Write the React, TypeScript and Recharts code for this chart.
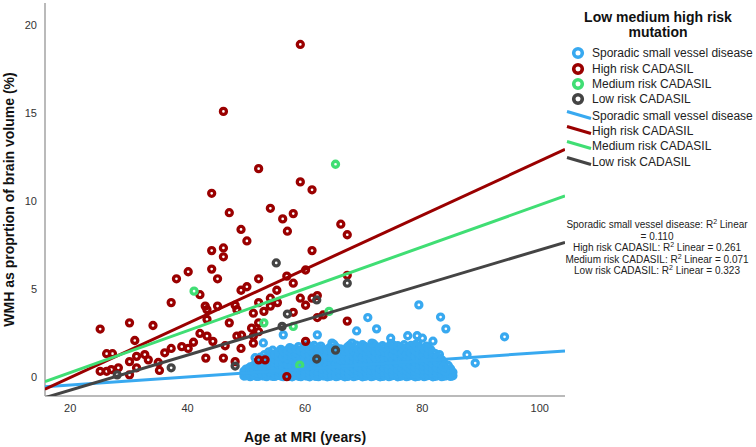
import React from 'react'
import { Scatter, ScatterChart, XAxis, YAxis } from 'recharts'

// Age at MRI (years) vs WMH volume as % of brain volume, grouped by mutation risk
type Pt = [number, number]

const X_MIN = 15.7
const X_MAX = 104.3
const Y_MIN = -1.05
const Y_MAX = 21.25

const xTicks = [20, 40, 60, 80, 100]
const yTicks = [0, 5, 10, 15, 20]

const groupNames = ['Sporadic small vessel disease', 'High risk CADASIL', 'Medium risk CADASIL', 'Low risk CADASIL']
const groupColors = ['#38a9f0', '#9a0000', '#40de74', '#444444']
const r2Values = ['0.110', '0.261', '0.071', '0.323']

// linear fits per group: [intercept, slope]
const fitCoefs: Pt[] = [
  [-0.891, 0.023],
  [-3.07, 0.1535],
  [-2.097, 0.1189],
  [-2.708, 0.0995],
]

const highPts: Pt[] = [
  [59.2, 18.9], [46.1, 15.1], [52.1, 11.85], [59.2, 11.1], [61.2, 10.65], [44.1, 10.45],
  [54.1, 9.6], [47.1, 9.35], [58.0, 9.3], [56.2, 9.0], [49.1, 8.4], [57.0, 8.3], [66.1, 8.7],
  [67.2, 8.1], [50.1, 7.75], [44.1, 7.2], [46.1, 7.35], [46.1, 6.85], [61.2, 7.2], [40.1, 6.0],
  [44.1, 6.15], [38.1, 5.6], [45.1, 5.6], [52.1, 5.6], [60.1, 6.1], [56.9, 5.75], [58.0, 5.35],
  [67.2, 5.8], [50.1, 5.15], [49.1, 4.95], [55.2, 4.95], [42.1, 4.7], [37.2, 4.25], [43.0, 4.05],
  [43.3, 3.85], [45.1, 4.05], [48.1, 4.1], [48.4, 3.85], [52.1, 4.25], [54.1, 4.5], [54.1, 4.05],
  [55.3, 4.25], [59.2, 4.5], [60.1, 4.1], [61.2, 4.5], [62.1, 4.65], [51.2, 3.65], [53.0, 3.75],
  [58.0, 3.7], [62.1, 3.4], [63.1, 3.55], [67.2, 3.2], [43.3, 3.3], [47.1, 3.1], [52.1, 3.1],
  [50.9, 2.8], [52.1, 2.6], [25.1, 2.75], [30.1, 3.1], [34.1, 2.95], [42.1, 2.5], [43.3, 2.35],
  [44.3, 2.05], [41.0, 2.0], [39.0, 1.75], [40.1, 1.65], [37.2, 1.65], [36.1, 1.4], [31.0, 2.1],
  [48.4, 2.35], [49.2, 2.4], [51.2, 2.35], [51.2, 1.95], [49.1, 1.65], [46.4, 1.8], [60.1, 2.05],
  [26.2, 1.35], [27.2, 1.35], [30.1, 0.9], [31.3, 1.2], [32.7, 1.3], [33.3, 1.0], [35.0, 0.85],
  [25.1, 0.35], [26.2, 0.35], [27.0, 0.45], [28.2, 0.55], [30.1, 0.15], [31.3, 0.55], [35.2, 0.4],
  [43.1, 1.1], [46.1, 1.1], [48.1, 0.9], [52.1, 1.0], [53.2, 1.0], [56.9, 0.05],
]

const mediumPts: Pt[] = [
  [65.2, 12.1], [41.1, 4.9], [53.0, 3.1], [58.0, 2.9], [59.1, 0.7], [64.1, 3.75],
]

const lowPts: Pt[] = [
  [55.1, 6.5], [57.0, 3.6], [62.0, 4.4], [62.0, 1.05], [37.2, 0.55], [48.1, 0.65],
  [28.0, 0.15], [56.1, 2.9], [67.2, 5.35], [65.2, 1.55],
]

// sporadic SVD: scattered higher values, then the dense low band by age
const sporadicOutliers: Pt[] = [
  [51.5, 1.12], [52.9, 1.96], [56.3, 2.42], [62.1, 2.42], [64.6, 1.95], [68.0, 1.95], [68.8, 2.64],
  [70.7, 3.4], [71.4, 1.95], [72.2, 2.76], [74.6, 2.23], [77.5, 2.37], [79.1, 2.37], [80.0, 2.23],
  [81.8, 2.06], [79.0, 1.76], [79.4, 4.12], [83.1, 3.43], [84.0, 2.76], [87.6, 1.29], [89.0, 0.82],
  [94.0, 2.31], [83.9, 0.34], [83.6, 0.6],
]

const sporadicBand: [number, number[]][] = [
  [49.6, [0.08, 0.35]],
  [50.3, [0.15, 0.5]],
  [51.0, [0.1, 0.32, 0.62]],
  [51.7, [0.07, 0.28, 0.55, 0.84]],
  [52.4, [0.14, 0.4, 0.7, 1.15]],
  [53.1, [0.09, 0.3, 0.58, 0.92, 1.3]],
  [53.8, [0.12, 0.36, 0.66, 1.02, 1.45]],
  [54.5, [0.07, 0.25, 0.5, 0.8, 1.18, 1.55]],
  [55.2, [0.11, 0.33, 0.6, 0.95, 1.42]],
  [55.9, [0.08, 0.27, 0.52, 0.78, 1.1, 1.6]],
  [56.7, [0.13, 0.38, 0.68, 1.0, 1.35]],
  [57.4, [0.06, 0.24, 0.47, 0.85, 1.22, 1.7]],
  [58.2, [0.1, 0.31, 0.58, 0.9, 1.5]],
  [58.9, [0.07, 0.22, 0.45, 0.72, 1.05, 1.38, 1.75]],
  [59.7, [0.12, 0.34, 0.62, 0.98, 1.28, 1.62]],
  [60.4, [0.08, 0.26, 0.5, 0.8, 1.15, 1.45, 1.85]],
  [61.2, [0.11, 0.36, 0.66, 0.94, 1.3, 1.68]],
  [61.9, [0.06, 0.23, 0.44, 0.74, 1.08, 1.52]],
  [62.7, [0.13, 0.38, 0.6, 0.88, 1.22, 1.78]],
  [63.4, [0.09, 0.28, 0.52, 0.82, 1.12, 1.42]],
  [64.2, [0.07, 0.32, 0.58, 0.96, 1.34, 1.7]],
  [64.9, [0.12, 0.24, 0.46, 0.7, 1.02, 1.55, 1.88]],
  [65.7, [0.08, 0.35, 0.64, 0.9, 1.25, 1.6]],
  [66.4, [0.1, 0.27, 0.5, 0.78, 1.1, 1.44]],
  [67.2, [0.06, 0.3, 0.56, 0.86, 1.18, 1.72]],
  [67.9, [0.13, 0.4, 0.68, 1.0, 1.36, 1.65]],
  [68.7, [0.09, 0.25, 0.48, 0.74, 1.06, 1.5, 1.84]],
  [69.4, [0.11, 0.34, 0.6, 0.92, 1.28, 1.72]],
  [70.2, [0.07, 0.22, 0.44, 0.7, 1.02, 1.4, 1.76]],
  [70.9, [0.12, 0.36, 0.62, 0.88, 1.2, 1.56]],
  [71.7, [0.08, 0.28, 0.52, 0.82, 1.14, 1.48, 1.9]],
  [72.4, [0.1, 0.33, 0.58, 0.96, 1.3, 1.66]],
  [73.2, [0.06, 0.24, 0.46, 0.72, 1.04, 1.38, 1.8]],
  [73.9, [0.13, 0.38, 0.66, 0.9, 1.22, 1.58]],
  [74.7, [0.09, 0.3, 0.54, 0.84, 1.16, 1.5, 1.94]],
  [75.4, [0.11, 0.26, 0.5, 0.78, 1.08, 1.44, 1.7]],
  [76.2, [0.07, 0.35, 0.62, 0.94, 1.26, 1.62]],
  [76.9, [0.12, 0.28, 0.48, 0.76, 1.1, 1.46, 1.86]],
  [77.7, [0.08, 0.32, 0.58, 0.86, 1.2, 1.56]],
  [78.4, [0.1, 0.24, 0.44, 0.7, 1.0, 1.34, 1.74]],
  [79.2, [0.06, 0.36, 0.64, 0.92, 1.28, 1.6, 1.96]],
  [79.9, [0.13, 0.3, 0.52, 0.8, 1.12, 1.48]],
  [80.7, [0.09, 0.26, 0.5, 0.76, 1.06, 1.4, 1.78]],
  [81.4, [0.11, 0.34, 0.6, 0.9, 1.24, 1.58]],
  [82.2, [0.07, 0.22, 0.46, 0.72, 1.04, 1.36]],
  [82.9, [0.12, 0.38, 0.66, 0.96, 1.3]],
  [83.7, [0.08, 0.3, 0.55, 0.82]],
  [84.4, [0.14, 0.4, 0.68]],
  [85.2, [0.1, 0.3]],
]

// second set of subjects sitting between the ages above
const sporadicBandB: [number, number[]][] = [
  [49.95, [0.1, 0.3, 0.48]],
  [50.65, [0.05, 0.22, 0.42, 0.6]],
  [51.35, [0.12, 0.3, 0.48, 0.7]],
  [52.05, [0.06, 0.24, 0.44, 0.64, 0.9]],
  [52.75, [0.1, 0.2, 0.42, 0.62, 0.82, 1.05]],
  [53.45, [0.05, 0.22, 0.44, 0.6, 0.82, 1.12]],
  [54.15, [0.1, 0.28, 0.46, 0.68, 0.9, 1.14, 1.35]],
  [54.85, [0.06, 0.2, 0.4, 0.62, 0.86, 1.06, 1.3]],
  [55.55, [0.12, 0.3, 0.46, 0.7, 0.88, 1.2, 1.45]],
  [56.3, [0.05, 0.2, 0.42, 0.6, 0.84, 1.16, 1.5]],
  [57.05, [0.1, 0.32, 0.56, 0.72, 1.06, 1.3, 1.55]],
  [57.8, [0.04, 0.18, 0.38, 0.66, 1.0, 1.14, 1.36, 1.62]],
  [58.55, [0.12, 0.3, 0.52, 0.8, 1.2, 1.4, 1.6]],
  [59.3, [0.05, 0.2, 0.4, 0.58, 0.84, 1.16, 1.5]],
  [60.05, [0.1, 0.28, 0.46, 0.64, 0.86, 1.1, 1.36, 1.6]],
  [60.8, [0.04, 0.2, 0.4, 0.62, 0.98, 1.28, 1.6]],
  [61.55, [0.1, 0.24, 0.52, 0.8, 1.12, 1.46, 1.82]],
  [62.3, [0.05, 0.2, 0.34, 0.58, 0.92, 1.36, 1.66]],
  [63.05, [0.1, 0.26, 0.48, 0.74, 1.04, 1.3, 1.6]],
  [63.8, [0.04, 0.2, 0.42, 0.66, 0.96, 1.26, 1.58]],
  [64.55, [0.1, 0.22, 0.44, 0.76, 1.16, 1.48]],
  [65.3, [0.05, 0.2, 0.52, 0.8, 1.1, 1.4, 1.72]],
  [66.05, [0.12, 0.22, 0.46, 0.72, 1.0, 1.32, 1.62]],
  [66.8, [0.04, 0.18, 0.4, 0.64, 0.98, 1.3, 1.5]],
  [67.55, [0.1, 0.22, 0.46, 0.72, 1.06, 1.52, 1.82]],
  [68.3, [0.05, 0.26, 0.54, 0.86, 1.2, 1.5]],
  [69.05, [0.12, 0.2, 0.38, 0.62, 0.9, 1.2, 1.62]],
  [69.8, [0.04, 0.22, 0.48, 0.8, 1.14, 1.56, 1.86]],
  [70.55, [0.1, 0.26, 0.52, 0.78, 1.1, 1.3, 1.66]],
  [71.3, [0.05, 0.2, 0.42, 0.72, 1.02, 1.36, 1.72]],
  [72.05, [0.12, 0.2, 0.4, 0.68, 1.12, 1.46, 1.78]],
  [72.8, [0.04, 0.22, 0.48, 0.84, 1.18, 1.52]],
  [73.55, [0.1, 0.26, 0.54, 0.8, 1.1, 1.46, 1.7]],
  [74.3, [0.05, 0.2, 0.44, 0.74, 1.04, 1.34, 1.76]],
  [75.05, [0.12, 0.2, 0.4, 0.68, 0.98, 1.3, 1.62, 1.84]],
  [75.8, [0.04, 0.2, 0.46, 0.8, 1.18, 1.5, 1.8]],
  [76.55, [0.1, 0.22, 0.54, 0.84, 1.04, 1.36, 1.7]],
  [77.3, [0.05, 0.2, 0.4, 0.66, 0.98, 1.3, 1.7]],
  [78.05, [0.12, 0.22, 0.46, 0.74, 1.06, 1.4, 1.82]],
  [78.8, [0.04, 0.18, 0.36, 0.58, 0.86, 1.16, 1.52, 1.86]],
  [79.55, [0.1, 0.24, 0.46, 0.74, 1.02, 1.34, 1.72]],
  [80.3, [0.05, 0.2, 0.4, 0.64, 0.94, 1.24, 1.6]],
  [81.05, [0.12, 0.2, 0.42, 0.66, 0.96, 1.3, 1.66]],
  [81.8, [0.04, 0.22, 0.48, 0.78, 1.1, 1.42]],
  [82.55, [0.1, 0.26, 0.54, 0.84, 1.18]],
  [83.3, [0.05, 0.22, 0.44, 0.7, 1.0]],
  [84.05, [0.1, 0.24, 0.52]],
  [84.8, [0.06, 0.22, 0.5]],
]

const toXY = (pts: Pt[]) => pts.map(([x, y]) => ({ x, y }))
const bandXY = (band: [number, number[]][]) => band.flatMap(([age, vals]) => vals.map(v => ({ x: age, y: v })))

const sporadicData = [...bandXY(sporadicBand), ...bandXY(sporadicBandB), ...toXY(sporadicOutliers)]

const groupData = [sporadicData, toXY(highPts), toXY(mediumPts), toXY(lowPts)]

const fitData = fitCoefs.map(([a, b]) => [
  { x: X_MIN, y: a + b * X_MIN },
  { x: X_MAX, y: a + b * X_MAX },
])

const FONT = '"Liberation Sans", Arial, sans-serif'

// hollow ring marker: overlapping rings fill each other's holes
const ring = (color: string) => (props: any) => (
  <circle cx={props.cx} cy={props.cy} r={3} fill="none" stroke={color} strokeWidth={3.3} />
)
const noDot = () => <g />

const YTitle = () => (
  <text
    x={9}
    y={199.5}
    transform="rotate(-90 9 199.5)"
    textAnchor="middle"
    dominantBaseline="central"
    fontFamily={FONT}
    fontSize={14}
    fontWeight="bold"
    fill="#111"
  >
    WMH as proprtion of brain volume (%)
  </text>
)

const XTitle = () => (
  <text
    x={305}
    y={437}
    textAnchor="middle"
    dominantBaseline="central"
    fontFamily={FONT}
    fontSize={14}
    fontWeight="bold"
    fill="#111"
  >
    Age at MRI (years)
  </text>
)

function Legend() {
  const markerRows = [53, 69, 84, 99]
  const lineRows = [116, 131, 146, 162]
  return (
    <svg width={196} height={180} style={{ position: 'absolute', left: 560, top: 0 }}>
      <text x={98} y={17} textAnchor="middle" dominantBaseline="central" fontFamily={FONT} fontSize={14} fontWeight="bold" fill="#111">
        Low medium high risk
      </text>
      <text x={98} y={32} textAnchor="middle" dominantBaseline="central" fontFamily={FONT} fontSize={14} fontWeight="bold" fill="#111">
        mutation
      </text>
      {groupNames.map((name, i) => (
        <g key={'m' + i}>
          <circle cx={18} cy={markerRows[i]} r={4.3} fill="none" stroke={groupColors[i]} strokeWidth={3.6} />
          <text x={32} y={markerRows[i]} dominantBaseline="central" fontFamily={FONT} fontSize={12} fill="#222">
            {name}
          </text>
        </g>
      ))}
      {groupNames.map((name, i) => (
        <g key={'l' + i}>
          <line x1={7} y1={lineRows[i] - 4.5} x2={31} y2={lineRows[i] + 2.5} stroke={groupColors[i]} strokeWidth={3} />
          <text x={32} y={lineRows[i]} dominantBaseline="central" fontFamily={FONT} fontSize={12} fill="#222">
            {name}
          </text>
        </g>
      ))}
    </svg>
  )
}

function R2Notes() {
  const [first, ...rest] = groupNames
  return (
    <div
      style={{
        position: 'absolute',
        left: 557,
        top: 219,
        width: 200,
        textAlign: 'center',
        fontFamily: FONT,
        fontSize: 10,
        lineHeight: '11.5px',
        color: '#222',
      }}
    >
      <div>
        {first}: R<sup style={{ fontSize: 7, lineHeight: 0 }}>2</sup> Linear
      </div>
      <div>= {r2Values[0]}</div>
      {rest.map((name, i) => (
        <div key={name}>
          {name}: R<sup style={{ fontSize: 7, lineHeight: 0 }}>2</sup> Linear = {r2Values[i + 1]}
        </div>
      ))}
    </div>
  )
}

export default function App() {
  return (
    <div style={{ position: 'absolute', left: 0, top: 0, width: 756, height: 447, background: '#fff' }}>
      <ScatterChart width={756} height={447} margin={{ top: 3, right: 191, bottom: 0, left: 0 }}>
        <XAxis
          type="number"
          dataKey="x"
          domain={[X_MIN, X_MAX]}
          ticks={xTicks}
          allowDataOverflow
          height={51}
          tickLine={false}
          axisLine={{ stroke: '#a3a3a3', strokeWidth: 1.5 }}
          tick={{ fontSize: 11, fill: '#333', fontFamily: FONT }}
          label={<XTitle />}
        />
        <YAxis
          type="number"
          dataKey="y"
          domain={[Y_MIN, Y_MAX]}
          ticks={yTicks}
          allowDataOverflow
          width={45}
          tickLine={false}
          axisLine={{ stroke: '#a3a3a3', strokeWidth: 1.5 }}
          tick={{ fontSize: 11, fill: '#333', fontFamily: FONT }}
          label={<YTitle />}
        />
        {groupData.map((data, i) => (
          <Scatter key={'pts' + i} data={data} shape={ring(groupColors[i])} isAnimationActive={false} />
        ))}
        {fitData.map((data, i) => (
          <Scatter
            key={'fit' + i}
            data={data}
            shape={noDot}
            line={{ stroke: groupColors[i], strokeWidth: 3 }}
            isAnimationActive={false}
          />
        ))}
      </ScatterChart>
      <Legend />
      <R2Notes />
    </div>
  )
}
